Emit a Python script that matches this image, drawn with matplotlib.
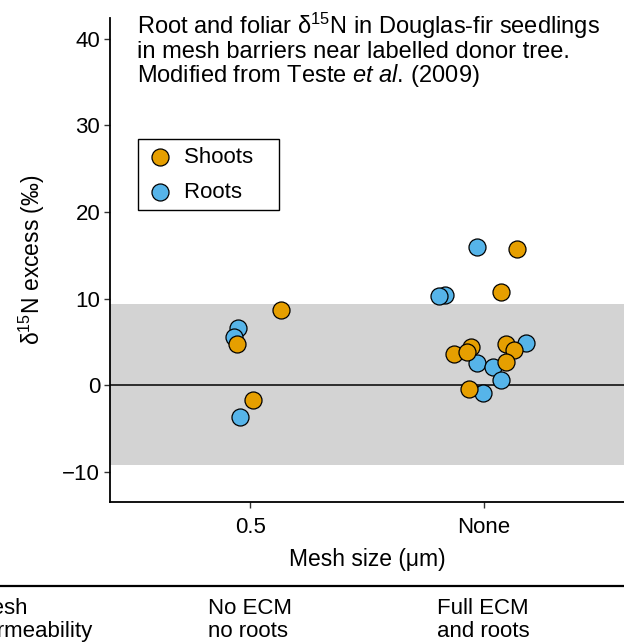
import matplotlib
matplotlib.use('Agg')
import matplotlib.pyplot as plt
from matplotlib.lines import Line2D

plt.rcParams['font.family'] = ['Liberation Sans', 'DejaVu Sans']
plt.rcParams['mathtext.fontset'] = 'custom'
plt.rcParams['mathtext.rm'] = 'Liberation Sans'
plt.rcParams['mathtext.it'] = 'Liberation Sans:italic'

# categories on the x axis
mesh_labels = ['0.5', 'None']
under_labels = ['Mesh\npermeability', 'No ECM\nno roots', 'Full ECM\nand roots']

# jittered positions and values
roots_x = [0.947, 0.929, 0.958,
           1.969, 1.833, 1.809, 2.179, 1.969, 2.040, 2.073, 1.997]
roots_y = [6.6, 5.6, -3.7,
           16.0, 10.4, 10.3, 4.9, 2.6, 2.1, 0.55, -0.9]
shoots_x = [0.943, 1.131, 1.013,
            2.141, 2.074, 2.097, 2.131, 1.944, 1.872, 1.926, 2.094, 1.935]
shoots_y = [4.8, 8.7, -1.7,
            15.7, 10.7, 4.7, 4.1, 4.4, 3.6, 3.8, 2.7, -0.4]

band = (-9.2, 9.4)

c_shoot = '#E69F00'
c_root = '#56B4E9'

fig = plt.figure(figsize=(6.24, 6.42), dpi=100)
W, H = 624, 642
ax = fig.add_axes([110 / W, 1 - 502 / H, (624 - 110) / W, (502 - 18) / H])

ax.axhspan(band[0], band[1], color='#D3D3D3', lw=0, zorder=0)
ax.axhline(0, color='black', lw=1.1, zorder=1)

ax.scatter(roots_x, roots_y, s=150, c=c_root, edgecolors='black', linewidths=0.9, zorder=3, label='Roots')
ax.scatter(shoots_x, shoots_y, s=150, c=c_shoot, edgecolors='black', linewidths=0.9, zorder=4, label='Shoots')

ax.set_xlim(0.4, 2.6)
ax.set_ylim(-13.5, 42.4)
ax.set_xticks([1, 2])
ax.set_xticklabels(mesh_labels)
ax.set_yticks([-10, 0, 10, 20, 30, 40])
ax.set_yticklabels(['\u221210', '0', '10', '20', '30', '40'])
ax.tick_params(labelsize=16, length=4, width=1, color='#333333', labelcolor='black', pad=3)
ax.tick_params(axis='x', pad=7)

for s in ['top', 'right']:
    ax.spines[s].set_visible(False)
for s in ['left', 'bottom']:
    ax.spines[s].set_linewidth(1.3)

ax.set_xlabel('Mesh size (\u03bcm)', fontsize=16.5, labelpad=7)
ax.set_ylabel('\u03b4$^{15}$N excess (\u2030)', fontsize=16.5, labelpad=11)

handles, labels = ax.get_legend_handles_labels()
leg = ax.legend(handles[::-1], [l + '   ' for l in labels[::-1]], loc='upper left',
                bbox_to_anchor=(138 / W, 1 - 139 / H), bbox_transform=fig.transFigure,
                fontsize=16, frameon=True, fancybox=False, framealpha=1,
                edgecolor='black', handletextpad=0.4, borderpad=0.35,
                labelspacing=0.62, handlelength=1.3, borderaxespad=0)
leg.get_frame().set_linewidth(1.0)

fig.text(137 / W, 1 - 11 / H,
         'Root and foliar \u03b4$^{15}$N in Douglas-fir seedlings\n'
         'in mesh barriers near labelled donor tree.\n'
         'Modified from Teste $\\it{et\\ al.}\\,$(2009)',
         fontsize=17, ha='left', va='top', linespacing=0.98)

fig.add_artist(Line2D([0, 1], [1 - 586 / H, 1 - 586 / H], color='black', lw=1.6,
                      transform=fig.transFigure))
for x, t in zip([-27, 208, 437], under_labels):
    fig.text(x / W, 1 - 620 / H, t, fontsize=16, ha='left', va='center', linespacing=1.12)

fig.savefig('out.png', dpi=100)
